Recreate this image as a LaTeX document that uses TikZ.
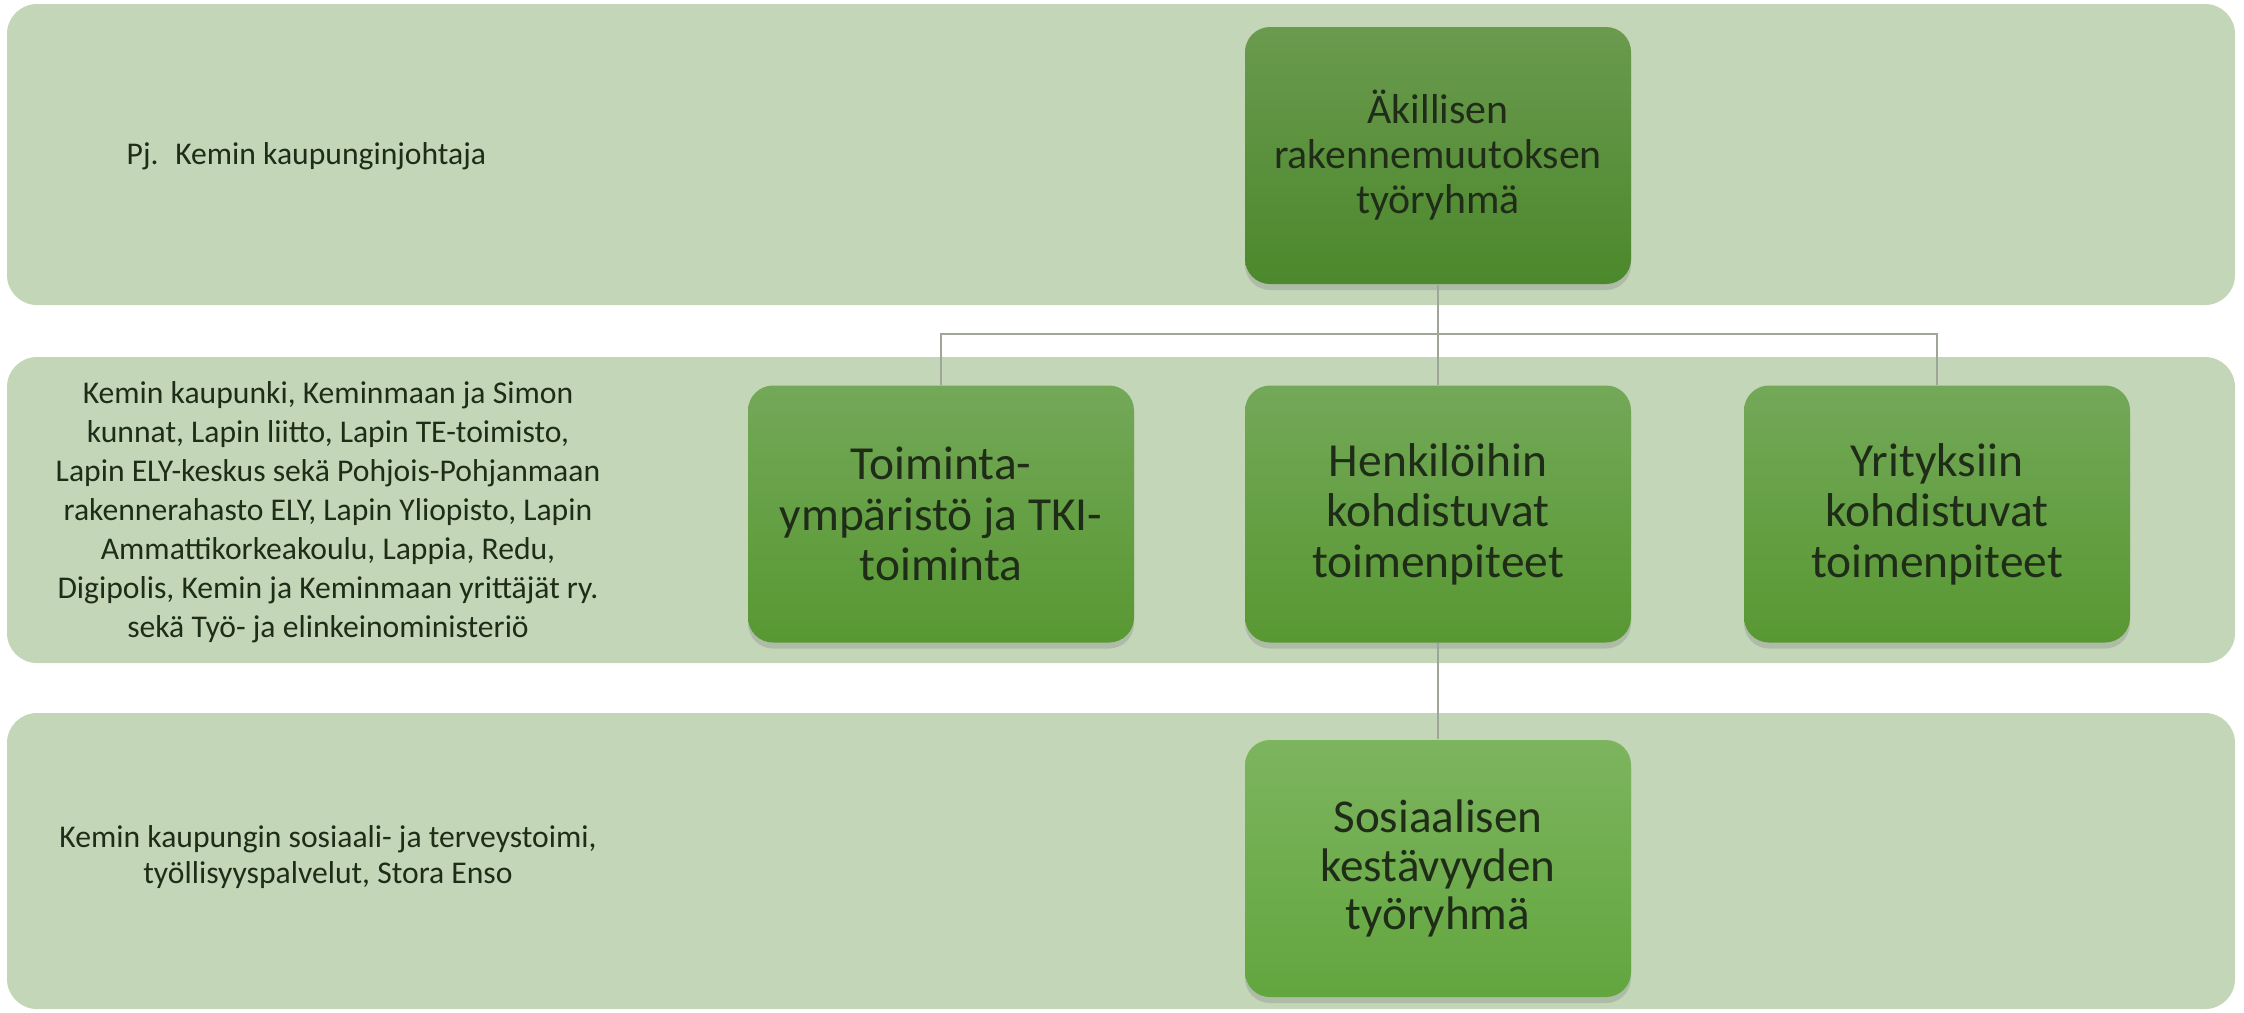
\documentclass[tikz,border=0pt]{standalone}
\usepackage{fontspec}
\setmainfont{Carlito}
\usetikzlibrary{shadows}
\definecolor{bandgreen}{HTML}{C3D6B8}
\definecolor{darktop}{HTML}{6A9A4E}
\definecolor{darkbot}{HTML}{4C882C}
\definecolor{midtop}{HTML}{73A858}
\definecolor{midbot}{HTML}{589832}
\definecolor{lowtop}{HTML}{7DB45F}
\definecolor{lowbot}{HTML}{62A63E}
\definecolor{inkgreen}{HTML}{1F2D18}
\definecolor{linkgray}{HTML}{9DA699}
\begin{document}
\begin{tikzpicture}[
  band/.style={fill=bandgreen, rounded corners=0.3cm},
  unit/.style={rounded corners=0.25cm, minimum width=3.86cm, minimum height=2.57cm,
    align=center, text=inkgreen, inner sep=0pt,
    drop shadow={shadow xshift=0pt, shadow yshift=-0.06cm, opacity=0.3}},
  headunit/.style={unit, top color=darktop, bottom color=darkbot,
    font=\fontsize{11.9}{12.8}\selectfont},
  midunit/.style={unit, top color=midtop, bottom color=midbot,
    font=\fontsize{13.5}{14.4}\selectfont},
  lowunit/.style={unit, top color=lowtop, bottom color=lowbot,
    font=\fontsize{13.4}{13.8}\selectfont},
  members/.style={text=inkgreen, align=center, inner sep=0pt,
    font=\fontsize{9}{11.1}\selectfont},
  link/.style={draw=linkgray, line width=0.6pt}
]
\useasboundingbox (0,0) rectangle (22.44,-10.12);
\fill[band] (0.07,-0.04) rectangle (22.35,-3.05);
\fill[band] (0.07,-3.57) rectangle (22.35,-6.63);
\fill[band] (0.07,-7.13) rectangle (22.35,-10.09);
\node[members, anchor=west] (chair) at (1.26,-1.56) {Pj.~ Kemin kaupunginjohtaja};
\node[members] (partners) at (3.28,-5.12) {Kemin kaupunki, Keminmaan ja Simon\\kunnat, Lapin liitto, Lapin TE-toimisto,\\Lapin ELY-keskus sekä Pohjois-Pohjanmaan\\rakennerahasto ELY, Lapin Yliopisto, Lapin\\Ammattikorkeakoulu, Lappia, Redu,\\Digipolis, Kemin ja Keminmaan yrittäjät ry.\\sekä Työ- ja elinkeinoministeriö};
\node[members, font=\fontsize{9}{10.2}\selectfont] (social) at (3.28,-8.57) {Kemin kaupungin sosiaali- ja terveystoimi,\\työllisyyspalvelut, Stora Enso};
\node[headunit] (head) at (14.38,-1.555) {Äkillisen\\rakennemuutoksen\\työryhmä};
\node[midunit] (env) at (9.41,-5.14) {Toiminta-\\ympäristö ja TKI-\\toiminta};
\node[midunit] (people) at (14.38,-5.14) {Henkilöihin\\kohdistuvat\\toimenpiteet};
\node[midunit] (firms) at (19.37,-5.14) {Yrityksiin\\kohdistuvat\\toimenpiteet};
\node[lowunit] (welfare) at (14.38,-8.685) {Sosiaalisen\\kestävyyden\\työryhmä};
\coordinate (bar) at (14.38,-3.34);
\draw[link] (head.south) -- (bar);
\draw[link] (env.north) |- (bar) -| (firms.north);
\draw[link] (bar) -- (people.north);
\draw[link] (people.south) -- (welfare.north);
\end{tikzpicture}
\end{document}
